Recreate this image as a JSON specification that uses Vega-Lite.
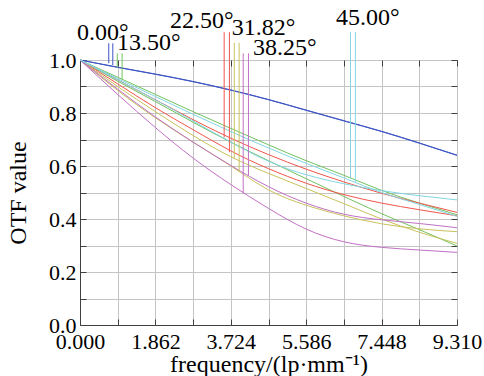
{
  "$schema": "https://vega.github.io/schema/vega-lite/v6.json",
  "width": 377,
  "height": 265,
  "autosize": {"type": "none"},
  "padding": {"left": 80, "top": 60, "right": 27, "bottom": 51},
  "background": "white",
  "config": {
    "view": {"stroke": "#404040", "strokeWidth": 1},
    "font": "Times New Roman",
    "text": {"font": "Times New Roman"},
    "axis": {"labelFont": "Times New Roman", "titleFont": "Times New Roman", "labelColor": "black", "titleColor": "black", "titleFontWeight": "normal", "domainColor": "#404040", "tickColor": "#404040", "gridColor": "#c4c4c4", "gridOpacity": 1}
  },
  "datasets": {
    "curves": [
      {"s":"B1","f":"0.00°","x":0,"y":1},{"s":"B1","f":"0.00°","x":0.931,"y":0.972},{"s":"B1","f":"0.00°","x":1.862,"y":0.946},{"s":"B1","f":"0.00°","x":2.793,"y":0.918},{"s":"B1","f":"0.00°","x":3.724,"y":0.886},{"s":"B1","f":"0.00°","x":4.655,"y":0.85},{"s":"B1","f":"0.00°","x":5.586,"y":0.81},{"s":"B1","f":"0.00°","x":6.517,"y":0.77},{"s":"B1","f":"0.00°","x":7.448,"y":0.73},{"s":"B1","f":"0.00°","x":8.379,"y":0.686},{"s":"B1","f":"0.00°","x":9.31,"y":0.64},
      {"s":"B2","f":"0.00°","x":0,"y":1},{"s":"B2","f":"0.00°","x":0.931,"y":0.973},{"s":"B2","f":"0.00°","x":1.862,"y":0.947},{"s":"B2","f":"0.00°","x":2.793,"y":0.919},{"s":"B2","f":"0.00°","x":3.724,"y":0.887},{"s":"B2","f":"0.00°","x":4.655,"y":0.851},{"s":"B2","f":"0.00°","x":5.586,"y":0.811},{"s":"B2","f":"0.00°","x":6.517,"y":0.771},{"s":"B2","f":"0.00°","x":7.448,"y":0.731},{"s":"B2","f":"0.00°","x":8.379,"y":0.687},{"s":"B2","f":"0.00°","x":9.31,"y":0.641},
      {"s":"G1","f":"13.50°","x":0,"y":1},{"s":"G1","f":"13.50°","x":0.931,"y":0.935},{"s":"G1","f":"13.50°","x":1.862,"y":0.87},{"s":"G1","f":"13.50°","x":2.793,"y":0.805},{"s":"G1","f":"13.50°","x":3.724,"y":0.742},{"s":"G1","f":"13.50°","x":4.655,"y":0.68},{"s":"G1","f":"13.50°","x":5.586,"y":0.62},{"s":"G1","f":"13.50°","x":6.517,"y":0.565},{"s":"G1","f":"13.50°","x":7.448,"y":0.508},{"s":"G1","f":"13.50°","x":8.379,"y":0.46},{"s":"G1","f":"13.50°","x":9.31,"y":0.416},
      {"s":"G2","f":"13.50°","x":0,"y":1},{"s":"G2","f":"13.50°","x":0.931,"y":0.92},{"s":"G2","f":"13.50°","x":1.862,"y":0.843},{"s":"G2","f":"13.50°","x":2.793,"y":0.765},{"s":"G2","f":"13.50°","x":3.724,"y":0.69},{"s":"G2","f":"13.50°","x":4.655,"y":0.62},{"s":"G2","f":"13.50°","x":5.586,"y":0.552},{"s":"G2","f":"13.50°","x":6.517,"y":0.485},{"s":"G2","f":"13.50°","x":7.448,"y":0.42},{"s":"G2","f":"13.50°","x":8.379,"y":0.36},{"s":"G2","f":"13.50°","x":9.31,"y":0.298},
      {"s":"R1","f":"22.50°","x":0,"y":1},{"s":"R1","f":"22.50°","x":0.931,"y":0.925},{"s":"R1","f":"22.50°","x":1.862,"y":0.85},{"s":"R1","f":"22.50°","x":2.793,"y":0.775},{"s":"R1","f":"22.50°","x":3.724,"y":0.705},{"s":"R1","f":"22.50°","x":4.655,"y":0.643},{"s":"R1","f":"22.50°","x":5.586,"y":0.588},{"s":"R1","f":"22.50°","x":6.517,"y":0.54},{"s":"R1","f":"22.50°","x":7.448,"y":0.497},{"s":"R1","f":"22.50°","x":8.379,"y":0.46},{"s":"R1","f":"22.50°","x":9.31,"y":0.425},
      {"s":"R2","f":"22.50°","x":0,"y":1},{"s":"R2","f":"22.50°","x":0.931,"y":0.91},{"s":"R2","f":"22.50°","x":1.862,"y":0.82},{"s":"R2","f":"22.50°","x":2.793,"y":0.737},{"s":"R2","f":"22.50°","x":3.724,"y":0.657},{"s":"R2","f":"22.50°","x":4.655,"y":0.59},{"s":"R2","f":"22.50°","x":5.586,"y":0.535},{"s":"R2","f":"22.50°","x":6.517,"y":0.492},{"s":"R2","f":"22.50°","x":7.448,"y":0.46},{"s":"R2","f":"22.50°","x":8.379,"y":0.435},{"s":"R2","f":"22.50°","x":9.31,"y":0.412},
      {"s":"Y1","f":"31.82°","x":0,"y":1},{"s":"Y1","f":"31.82°","x":0.931,"y":0.9},{"s":"Y1","f":"31.82°","x":1.862,"y":0.805},{"s":"Y1","f":"31.82°","x":2.793,"y":0.715},{"s":"Y1","f":"31.82°","x":3.724,"y":0.635},{"s":"Y1","f":"31.82°","x":4.655,"y":0.572},{"s":"Y1","f":"31.82°","x":5.586,"y":0.515},{"s":"Y1","f":"31.82°","x":6.517,"y":0.458},{"s":"Y1","f":"31.82°","x":7.448,"y":0.4},{"s":"Y1","f":"31.82°","x":8.379,"y":0.35},{"s":"Y1","f":"31.82°","x":9.31,"y":0.308},
      {"s":"Y2","f":"31.82°","x":0,"y":1},{"s":"Y2","f":"31.82°","x":0.931,"y":0.885},{"s":"Y2","f":"31.82°","x":1.862,"y":0.782},{"s":"Y2","f":"31.82°","x":2.793,"y":0.69},{"s":"Y2","f":"31.82°","x":3.724,"y":0.6},{"s":"Y2","f":"31.82°","x":4.655,"y":0.51},{"s":"Y2","f":"31.82°","x":5.586,"y":0.452},{"s":"Y2","f":"31.82°","x":6.517,"y":0.412},{"s":"Y2","f":"31.82°","x":7.448,"y":0.382},{"s":"Y2","f":"31.82°","x":8.379,"y":0.363},{"s":"Y2","f":"31.82°","x":9.31,"y":0.352},
      {"s":"P1","f":"38.25°","x":0,"y":1},{"s":"P1","f":"38.25°","x":0.931,"y":0.89},{"s":"P1","f":"38.25°","x":1.862,"y":0.785},{"s":"P1","f":"38.25°","x":2.793,"y":0.69},{"s":"P1","f":"38.25°","x":3.724,"y":0.602},{"s":"P1","f":"38.25°","x":4.655,"y":0.522},{"s":"P1","f":"38.25°","x":5.586,"y":0.46},{"s":"P1","f":"38.25°","x":6.517,"y":0.418},{"s":"P1","f":"38.25°","x":7.448,"y":0.397},{"s":"P1","f":"38.25°","x":8.379,"y":0.383},{"s":"P1","f":"38.25°","x":9.31,"y":0.367},
      {"s":"P2","f":"38.25°","x":0,"y":1},{"s":"P2","f":"38.25°","x":0.931,"y":0.87},{"s":"P2","f":"38.25°","x":1.862,"y":0.745},{"s":"P2","f":"38.25°","x":2.793,"y":0.63},{"s":"P2","f":"38.25°","x":3.724,"y":0.53},{"s":"P2","f":"38.25°","x":4.655,"y":0.44},{"s":"P2","f":"38.25°","x":5.586,"y":0.362},{"s":"P2","f":"38.25°","x":6.517,"y":0.314},{"s":"P2","f":"38.25°","x":7.448,"y":0.293},{"s":"P2","f":"38.25°","x":8.379,"y":0.283},{"s":"P2","f":"38.25°","x":9.31,"y":0.274},
      {"s":"C1","f":"45.00°","x":0,"y":1},{"s":"C1","f":"45.00°","x":0.931,"y":0.925},{"s":"C1","f":"45.00°","x":1.862,"y":0.85},{"s":"C1","f":"45.00°","x":2.793,"y":0.77},{"s":"C1","f":"45.00°","x":3.724,"y":0.69},{"s":"C1","f":"45.00°","x":4.655,"y":0.618},{"s":"C1","f":"45.00°","x":5.586,"y":0.567},{"s":"C1","f":"45.00°","x":6.517,"y":0.533},{"s":"C1","f":"45.00°","x":7.448,"y":0.507},{"s":"C1","f":"45.00°","x":8.379,"y":0.488},{"s":"C1","f":"45.00°","x":9.31,"y":0.472},
      {"s":"C2","f":"45.00°","x":0,"y":1},{"s":"C2","f":"45.00°","x":0.931,"y":0.93},{"s":"C2","f":"45.00°","x":1.862,"y":0.862},{"s":"C2","f":"45.00°","x":2.793,"y":0.795},{"s":"C2","f":"45.00°","x":3.724,"y":0.73},{"s":"C2","f":"45.00°","x":4.655,"y":0.668},{"s":"C2","f":"45.00°","x":5.586,"y":0.61},{"s":"C2","f":"45.00°","x":6.517,"y":0.555},{"s":"C2","f":"45.00°","x":7.448,"y":0.5},{"s":"C2","f":"45.00°","x":8.379,"y":0.455},{"s":"C2","f":"45.00°","x":9.31,"y":0.41}
    ],
    "markers": [
      {"f":"0.00°","x":0.71,"y":0.988,"y2":1.063},{"f":"0.00°","x":0.81,"y":0.981,"y2":1.063},
      {"f":"13.50°","x":0.92,"y":0.971,"y2":1.025},{"f":"13.50°","x":1.04,"y":0.928,"y2":1.025},
      {"f":"22.50°","x":3.56,"y":0.708,"y2":1.105},{"f":"22.50°","x":3.69,"y":0.652,"y2":1.105},
      {"f":"31.82°","x":3.81,"y":0.627,"y2":1.065},{"f":"31.82°","x":3.93,"y":0.579,"y2":1.065},
      {"f":"38.25°","x":4.03,"y":0.497,"y2":1.025},{"f":"38.25°","x":4.16,"y":0.562,"y2":1.025},
      {"f":"45.00°","x":6.68,"y":0.553,"y2":1.105},{"f":"45.00°","x":6.8,"y":0.54,"y2":1.105}
    ],
    "labels": [
      {"f":"0.00°","x":-0.074,"y":1.075},
      {"f":"13.50°","x":0.914,"y":1.038},
      {"f":"22.50°","x":2.22,"y":1.121},
      {"f":"31.82°","x":3.75,"y":1.094},
      {"f":"38.25°","x":4.27,"y":1.019},
      {"f":"45.00°","x":6.32,"y":1.132}
    ]
  },
  "resolve": {"axis": {"x": "independent", "y": "independent"}},
  "layer": [
    {
      "data": {"name": "curves"},
      "mark": {"type": "line", "strokeWidth": 1, "interpolate": "natural", "clip": false},
      "encoding": {
        "x": {"field": "x", "type": "quantitative", "scale": {"domain": [0, 9.31], "nice": false, "zero": false},
          "axis": {"values": [0,0.931,1.862,2.793,3.724,4.655,5.586,6.517,7.448,8.379,9.31], "grid": true, "tickSize": -6, "labelPadding": 12, "labelFontSize": 22, "labelExpr": "abs(datum.value/1.862 - round(datum.value/1.862)) < 0.01 ? format(datum.value,'.3f') : ''", "labelFlush": false, "labelOverlap": false, "title": "frequency/(lp·mm⁻¹)", "titleFontSize": 24, "titleY": 46, "titleBaseline": "alphabetic"}},
        "y": {"field": "y", "type": "quantitative", "scale": {"domain": [0, 1], "nice": false, "zero": false},
          "axis": {"values": [0,0.1,0.2,0.3,0.4,0.5,0.6,0.7,0.8,0.9,1.0], "grid": true, "tickSize": -6, "labelPadding": 10, "labelFontSize": 22, "labelExpr": "abs(datum.value*5 - round(datum.value*5)) < 0.01 ? format(datum.value,'.1f') : ''", "labelFlush": false, "labelOverlap": false, "title": "OTF value", "titleFontSize": 24, "titleX": -62, "titleBaseline": "middle"}},
        "color": {"field": "f", "type": "nominal", "legend": null, "scale": {"domain": ["0.00°","13.50°","22.50°","31.82°","38.25°","45.00°"], "range": ["#3d55c4","#72c25e","#f0564c","#c9c25c","#c070c4","#82d6e2"]}},
        "detail": {"field": "s", "type": "nominal"}
      }
    },
    {
      "data": {"name": "markers"},
      "mark": {"type": "rule", "strokeWidth": 1, "clip": false},
      "encoding": {
        "x": {"field": "x", "type": "quantitative", "scale": {"domain": [0, 9.31], "nice": false, "zero": false},
          "axis": {"orient": "top", "values": [0,0.931,1.862,2.793,3.724,4.655,5.586,6.517,7.448,8.379,9.31], "grid": false, "domain": false, "labels": false, "tickSize": -6, "title": null}},
        "y": {"field": "y", "type": "quantitative", "scale": {"domain": [0, 1], "nice": false, "zero": false},
          "axis": {"orient": "right", "values": [0,0.1,0.2,0.3,0.4,0.5,0.6,0.7,0.8,0.9,1.0], "grid": false, "domain": false, "labels": false, "tickSize": -6, "title": null}},
        "y2": {"field": "y2"},
        "color": {"field": "f", "type": "nominal", "legend": null}
      }
    },
    {
      "data": {"name": "labels"},
      "mark": {"type": "text", "align": "left", "baseline": "alphabetic", "fontSize": 24, "font": "Times New Roman", "color": "black", "clip": false},
      "encoding": {
        "x": {"field": "x", "type": "quantitative", "scale": {"domain": [0, 9.31], "nice": false, "zero": false}, "axis": null},
        "y": {"field": "y", "type": "quantitative", "scale": {"domain": [0, 1], "nice": false, "zero": false}, "axis": null},
        "text": {"field": "f", "type": "nominal"}
      }
    }
  ]
}
